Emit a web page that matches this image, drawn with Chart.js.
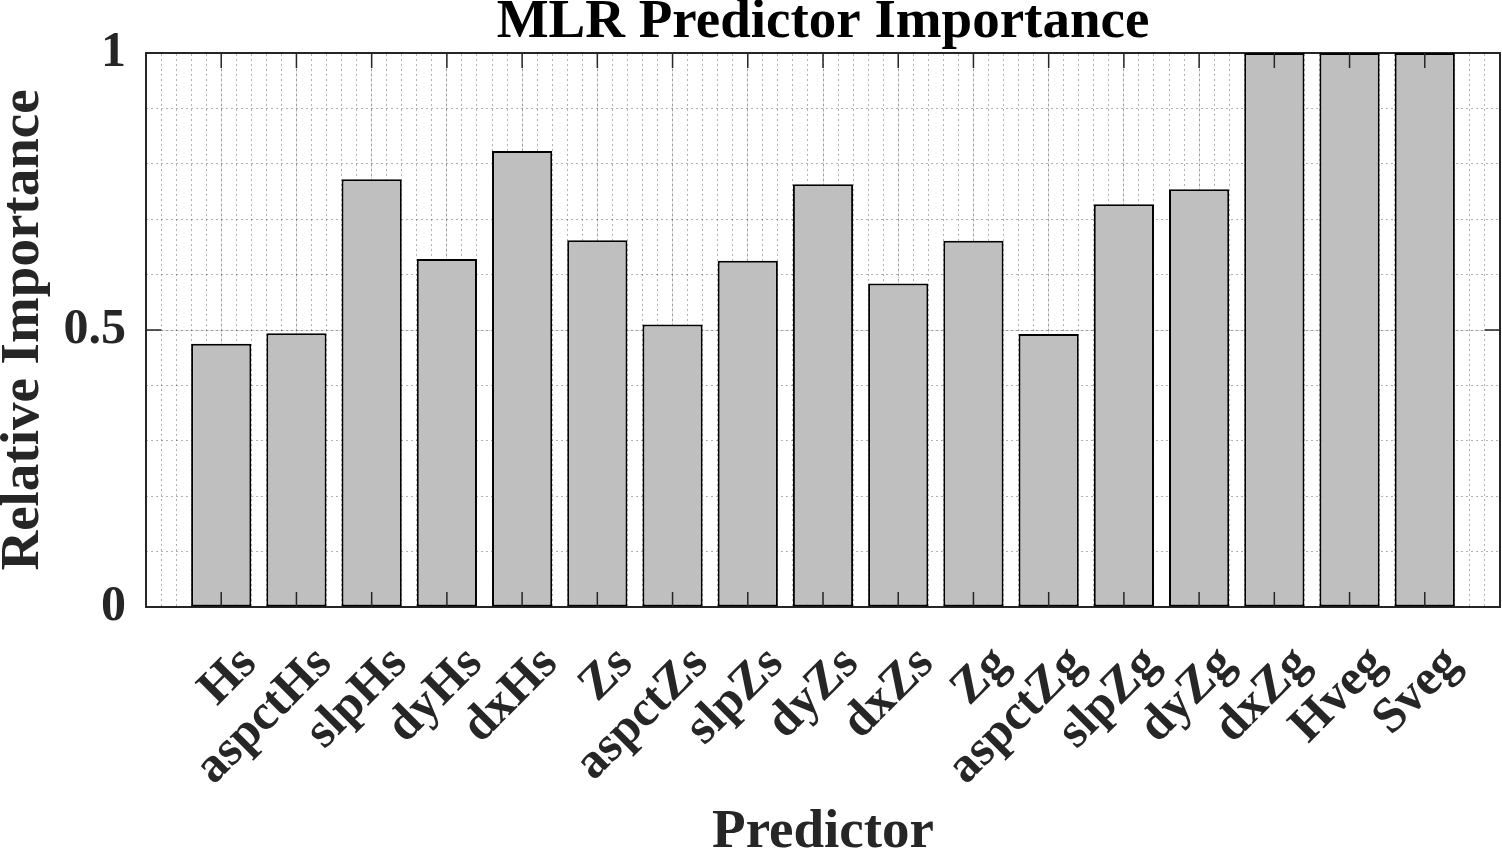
<!DOCTYPE html>
<html>
<head>
<meta charset="utf-8">
<title>MLR Predictor Importance</title>
<script src="https://cdn.jsdelivr.net/npm/chart.js@4"></script>
<style>
  html, body { margin: 0; padding: 0; background: #fff; }
  #wrap { width: 1502px; height: 851px; }
</style>
</head>
<body>
<div id="wrap"><canvas id="chart" width="1502" height="851"></canvas></div>
<script>
/* DATA */
const predictors = ['Hs', 'aspctHs', 'slpHs', 'dyHs', 'dxHs', 'Zs', 'aspctZs', 'slpZs',
  'dyZs', 'dxZs', 'Zg', 'aspctZg', 'slpZg', 'dyZg', 'dxZg', 'Hveg', 'Sveg'];
const importance = [0.475, 0.494, 0.772, 0.628, 0.823, 0.662, 0.510, 0.625,
  0.763, 0.584, 0.661, 0.493, 0.727, 0.754, 1, 1, 1];
const yTicks = [0, 0.5, 1];

// the MATLAB plot uses bar positions 1..N on a 0..N+1 axis
const positions = predictors.map((p, i) => i + 1);
const xMax = predictors.length + 1;

const FONT = "'Liberation Serif', 'Times New Roman', serif";
const INK = '#262626';

/* inward tick marks on all four sides, like a boxed MATLAB axis */
const boxTicks = {
  id: 'boxTicks',
  afterDraw(chart) {
    const { ctx, chartArea: a } = chart;
    const x = chart.scales.x;
    const y = chart.scales.y;
    const len = 15;
    ctx.save();
    ctx.strokeStyle = INK;
    ctx.lineWidth = 1.5;
    ctx.beginPath();
    positions.forEach(p => {
      const px = x.getPixelForValue(p);
      ctx.moveTo(px, a.bottom); ctx.lineTo(px, a.bottom - len);
      ctx.moveTo(px, a.top); ctx.lineTo(px, a.top + len);
    });
    yTicks.forEach(v => {
      const py = y.getPixelForValue(v);
      ctx.moveTo(a.left, py); ctx.lineTo(a.left + len, py);
      ctx.moveTo(a.right, py); ctx.lineTo(a.right - len, py);
    });
    ctx.stroke();
    ctx.restore();
  }
};

// fixed axis sizes so the plot box sits where the original one does
function fixSize(w, h) {
  return s => {
    if (w !== null) s.width = w;
    if (h !== null) s.height = h;
    s.paddingLeft = 0;
    s.paddingRight = 0;
    s.paddingTop = 0;
    s.paddingBottom = 0;
  };
}

const ctx = document.getElementById('chart').getContext('2d');

const chart = new Chart(ctx, {
  type: 'bar',
  data: {
    datasets: [{
      data: positions.map((p, i) => ({ x: p, y: importance[i] })),
      backgroundColor: '#bfbfbf',
      borderColor: '#000000',
      borderWidth: 2,
      borderSkipped: false,
      barPercentage: 0.8,
      categoryPercentage: 1
    }]
  },
  options: {
    responsive: false,
    animation: false,
    layout: { padding: { left: 0, right: 2, top: 0, bottom: 0 } },
    plugins: {
      legend: { display: false },
      tooltip: { enabled: false },
      title: {
        display: true,
        fullSize: false,
        text: 'MLR Predictor Importance',
        color: '#000',
        font: { family: FONT, size: 55, weight: 'bold', lineHeight: 0.9 },
        padding: { top: -2, bottom: 5.5 }
      }
    },
    scales: {
      x: {
        type: 'linear',
        position: 'bottom',
        offset: false,
        min: 0,
        max: xMax,
        z: 1,
        afterFit: fixSize(null, 244),
        ticks: {
          stepSize: 1,
          autoSkip: false,
          maxRotation: 45,
          minRotation: 45,
          padding: 28,
          labelOffset: 28,
          color: INK,
          font: { family: FONT, size: 50, weight: 'bold' },
          callback: v => (v >= 1 && v <= predictors.length ? predictors[v - 1] : '')
        },
        grid: { offset: false, color: 'rgba(0,0,0,0.13)', lineWidth: 1, drawTicks: false },
        border: { color: INK, width: 2 },
        title: {
          display: true,
          text: 'Predictor',
          color: INK,
          font: { family: FONT, size: 55, weight: 'bold', lineHeight: 1 },
          padding: { top: 0, bottom: -9 }
        }
      },
      xMinor: {
        type: 'linear',
        position: 'top',
        offset: false,
        min: 0,
        max: xMax,
        z: 1,
        afterFit: fixSize(null, 0),
        ticks: { display: false, stepSize: 0.2, maxTicksLimit: 200 },
        grid: { offset: false, color: 'rgba(0,0,0,0.3)', lineWidth: 1, drawTicks: false },
        border: { color: INK, width: 2, dash: [2, 3] }
      },
      y: {
        type: 'linear',
        position: 'left',
        min: 0,
        max: 1,
        z: 1,
        afterFit: fixSize(146, null),
        afterBuildTicks: s => { s.ticks = yTicks.map(v => ({ value: v })); },
        ticks: {
          padding: 20,
          color: INK,
          font: { family: FONT, size: 50, weight: 'bold' },
          callback: v => String(v)
        },
        grid: { color: 'rgba(0,0,0,0.13)', lineWidth: 1, drawTicks: false },
        border: { color: INK, width: 2 },
        title: {
          display: true,
          text: 'Relative Importance',
          color: INK,
          font: { family: FONT, size: 55, weight: 'bold', lineHeight: 1 },
          padding: { top: -4, bottom: 0 }
        }
      },
      yMinor: {
        type: 'linear',
        position: 'right',
        min: 0,
        max: 1,
        z: 1,
        afterFit: fixSize(0, null),
        ticks: { display: false, stepSize: 0.1 },
        grid: { color: 'rgba(0,0,0,0.3)', lineWidth: 1, drawTicks: false },
        border: { color: INK, width: 2, dash: [2, 3] }
      }
    }
  },
  plugins: [boxTicks]
});
</script>
</body>
</html>
